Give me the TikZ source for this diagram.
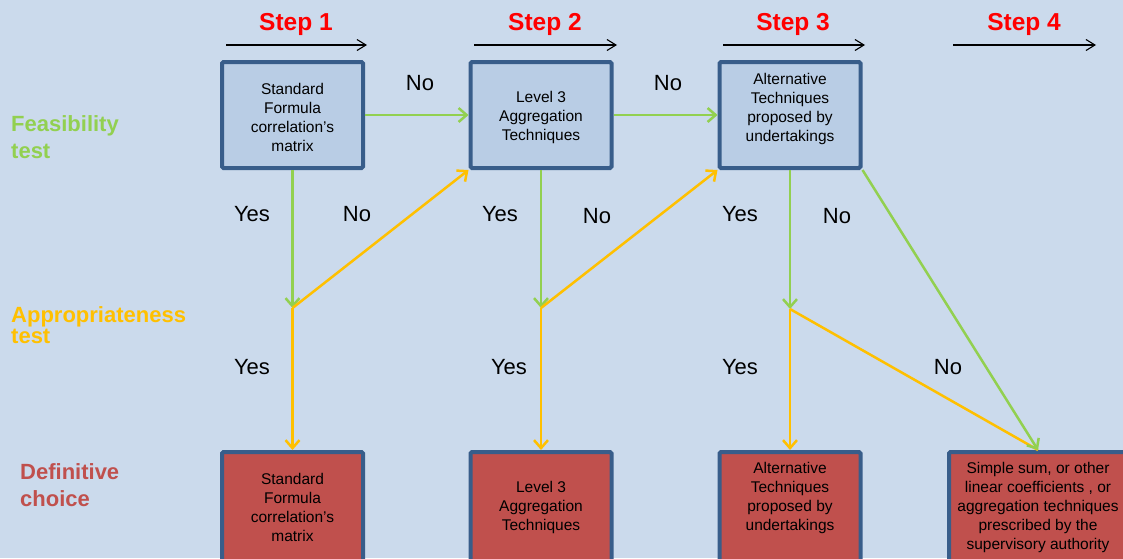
\documentclass[tikz,border=0pt]{standalone}
\usepackage{fontspec}
\setmainfont{Liberation Sans}
\usetikzlibrary{arrows.meta}
\definecolor{bg}{HTML}{CBDAEC}
\definecolor{boxfill}{HTML}{B9CDE5}
\definecolor{boxline}{HTML}{385D8A}
\definecolor{choicefill}{HTML}{C0504D}
\definecolor{feas}{HTML}{92D050}
\definecolor{appr}{HTML}{FFC000}
\definecolor{steps}{HTML}{FF0000}
\begin{document}
\begin{tikzpicture}[x=1pt,y=-1pt,
  box/.style={draw=boxline, line width=4pt, rounded corners=1.5pt,
    minimum width=141pt, minimum height=106pt, inner sep=0pt},
  testbox/.style={box, fill=boxfill},
  choicebox/.style={box, fill=choicefill, minimum height=110pt},
  boxtext/.style={inner sep=0pt, align=center, font=\fontsize{15.5}{19}\selectfont, text=black},
  steplabel/.style={text=steps, font=\fontsize{24.5}{28}\selectfont\bfseries, inner sep=0pt},
  steparrow/.style={line width=1.1pt, draw=black, -{Straight Barb[length=9pt,width=11pt]}},
  rowlabel/.style={anchor=north west, inner sep=0pt, align=left},
  answer/.style={font=\fontsize{22}{26}\selectfont, text=black, inner sep=0pt},
  feasarrow/.style={draw=feas, line width=2.5pt, -{Straight Barb[length=8pt,width=14pt]}},
  apprarrow/.style={draw=appr, line width=2.5pt, -{Straight Barb[length=8pt,width=14pt]}},
  apprline/.style={draw=appr, line width=2.5pt}
]
\useasboundingbox (0,0) rectangle (1123,558);
\clip (0,0) rectangle (1123,558);
\fill[bg] (0,0) rectangle (1123,558);

% step headings
\node[steplabel] (st1) at (296,24.5) {Step 1};
\node[steplabel] (st2) at (545,24.5) {Step 2};
\node[steplabel] (st3) at (793,24.5) {Step 3};
\node[steplabel] (st4) at (1024,24.5) {Step 4};
\coordinate (s1a) at (226,45); \coordinate (s1b) at (367,45);
\coordinate (s2a) at (474,45); \coordinate (s2b) at (617,45);
\coordinate (s3a) at (723,45); \coordinate (s3b) at (865,45);
\coordinate (s4a) at (953,45); \coordinate (s4b) at (1096,45);
\draw[steparrow] (s1a) -- (s1b);
\draw[steparrow] (s2a) -- (s2b);
\draw[steparrow] (s3a) -- (s3b);
\draw[steparrow] (s4a) -- (s4b);

% row labels
\node[rowlabel, text=feas, font=\fontsize{22}{27}\selectfont\bfseries] (lfeas) at (11,115) {Feasibility\\test};
\node[rowlabel, text=appr, font=\fontsize{22}{21}\selectfont\bfseries] (lappr) at (11,306) {Appropriateness\\test};
\node[rowlabel, text=choicefill, font=\fontsize{22}{27}\selectfont\bfseries] (ldef) at (20,463) {Definitive\\choice};

% feasibility test boxes
\node[testbox] (b1) at (292.5,115) {};
\node[boxtext] (b1t) at ([yshift=-2pt]b1.center) {Standard\\Formula\\correlation’s\\matrix};
\node[testbox] (b2) at (541,115) {};
\node[boxtext] (b2t) at ([yshift=-2.5pt]b2.center) {Level 3\\Aggregation\\Techniques};
\node[testbox] (b3) at (790,115) {};
\node[boxtext] (b3t) at ([yshift=6pt]b3.center) {Alternative\\Techniques\\proposed by\\undertakings};

% definitive choice boxes
\node[choicebox] (d1) at (292.5,507) {};
\node[boxtext] (d1t) at (d1.center) {Standard\\Formula\\correlation’s\\matrix};
\node[choicebox] (d2) at (541,507) {};
\node[boxtext] (d2t) at (d2.center) {Level 3\\Aggregation\\Techniques};
\node[choicebox] (d3) at (790,507) {};
\node[boxtext] (d3t) at ([yshift=9pt]d3.center) {Alternative\\Techniques\\proposed by\\undertakings};
\node[choicebox, minimum width=178pt] (d4) at (1038,507) {};
\node[boxtext] (d4t) at (d4.center) {Simple sum, or other\\linear coefficients , or\\aggregation techniques\\prescribed by the\\supervisory authority};

% appropriateness test points
\coordinate (a1) at (292.5,308);
\coordinate (a2) at (541,308);
\coordinate (a3) at (790,309);

% feasibility connectors
\draw[feasarrow] (b1.east) -- (b2.west);
\draw[feasarrow] (b2.east) -- (b3.west);
\draw[feasarrow] (b1.south) -- (a1);
\draw[feasarrow] (b2.south) -- (a2);
\draw[feasarrow] (b3.south) -- (a3);

% appropriateness connectors
\draw[apprarrow] (a1) -- (b2.south west);
\draw[apprarrow] (a2) -- (b3.south west);
\draw[apprarrow] (a1) -- (d1.north);
\draw[apprarrow] (a2) -- (d2.north);
\draw[apprarrow] (a3) -- (d3.north);
\draw[apprline] (a3) -- (d4.north);
\draw[feasarrow] (b3.south east) -- (d4.north);

% answers
\node[answer] (n12) at (420,83) {No};
\node[answer] (n23) at (668,83) {No};
\node[answer] (y1) at (252,214) {Yes};
\node[answer] (n1) at (357,214) {No};
\node[answer] (y2) at (500,214) {Yes};
\node[answer] (n2) at (597,216) {No};
\node[answer] (y3) at (740,214) {Yes};
\node[answer] (n3) at (837,216) {No};
\node[answer] (ya1) at (252,367) {Yes};
\node[answer] (ya2) at (509,367) {Yes};
\node[answer] (ya3) at (740,367) {Yes};
\node[answer] (na3) at (948,367) {No};
\end{tikzpicture}
\end{document}
